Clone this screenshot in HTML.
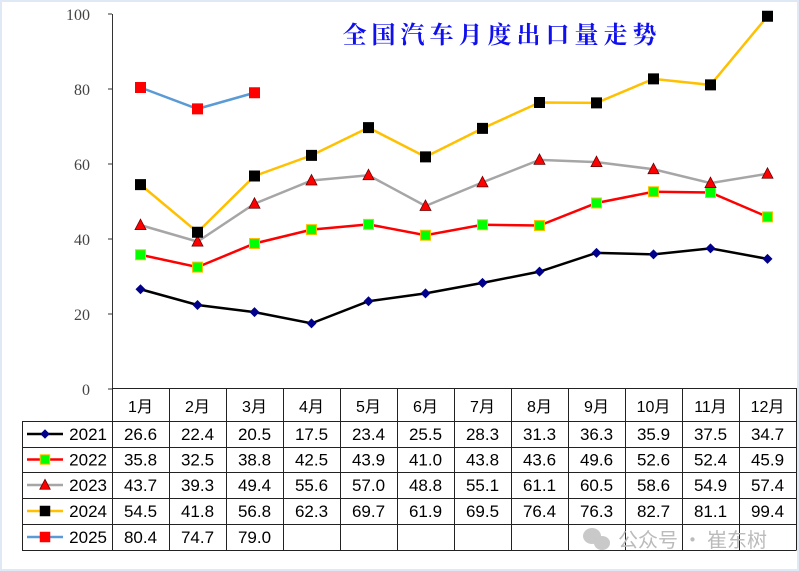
<!DOCTYPE html>
<html><head><meta charset="utf-8"><style>
html,body{margin:0;padding:0;background:#fff}
svg{display:block}
</style></head><body>
<svg id="s" width="799" height="571" xmlns="http://www.w3.org/2000/svg" font-family="Liberation Sans, sans-serif">
<rect x="0" y="0" width="799" height="571" fill="#dfe9f6"/>
<rect x="2" y="2" width="795" height="567" fill="#fff"/>
<text x="502" y="43" text-anchor="middle" font-family="Liberation Serif, Noto Serif CJK SC, serif" font-weight="bold" font-size="24" fill="#1010ee" letter-spacing="5">全国汽车月度出口量走势</text>
<g id="g"></g>
</svg>
<script>
const g=document.getElementById('g');let h='';
const X=i=>140.5+57*i, Y=v=>389-3.75*v;
h+='<line x1="112.5" y1="14" x2="112.5" y2="389" stroke="#333" stroke-width="1"/>';
for(let v=0;v<=100;v+=20){h+=`<line x1="108" y1="${Y(v)}" x2="112" y2="${Y(v)}" stroke="#333"/>`;
h+=`<text x="90" y="${Y(v)+6}" text-anchor="end" font-family="Liberation Serif, serif" font-size="16" fill="#444">${v}</text>`;}
const D=[
[[26.6,22.4,20.5,17.5,23.4,25.5,28.3,31.3,36.3,35.9,37.5,34.7],'#000','dia','#00008b','2021'],
[[35.8,32.5,38.8,42.5,43.9,41.0,43.8,43.6,49.6,52.6,52.4,45.9],'#ff0000','sq','#00ff00','2022'],
[[43.7,39.3,49.4,55.6,57.0,48.8,55.1,61.1,60.5,58.6,54.9,57.4],'#a6a6a6','tri','#ff0000','2023'],
[[54.5,41.8,56.8,62.3,69.7,61.9,69.5,76.4,76.3,82.7,81.1,99.4],'#ffc000','sq','#000','2024'],
[[80.4,74.7,79.0],'#5b9bd5','sq','#ff0000','2025']];
function mk(t,c,x,y,s){s=s||1;
 if(t=='sq'){let b=c=='#00ff00'?'#ffc000':c;return `<rect x="${x-5*s}" y="${y-5*s}" width="${10*s}" height="${10*s}" fill="${c}" stroke="${b}" stroke-width="1"/>`;}
 if(t=='dia')return `<polygon points="${x},${y-5*s} ${x+5*s},${y} ${x},${y+5*s} ${x-5*s},${y}" fill="${c}"/>`;
 return `<polygon points="${x},${y-6*s} ${x+5.5*s},${y+4.5*s} ${x-5.5*s},${y+4.5*s}" fill="${c}" stroke="#600" stroke-width="0.8"/>`;}
D.forEach(d=>{h+=`<polyline fill="none" stroke="${d[1]}" stroke-width="2.5" points="${d[0].map((v,i)=>X(i)+','+Y(v)).join(' ')}"/>`;
 d[0].forEach((v,i)=>h+=mk(d[2],d[3],X(i),Y(v)));});
const rows=[388,421,447,472,498,524,550];
const L='#222';
h+=`<line x1="112.5" y1="388.5" x2="796.5" y2="388.5" stroke="${L}"/>`;
for(let r=1;r<rows.length;r++)h+=`<line x1="22" y1="${rows[r]+.5}" x2="796.5" y2="${rows[r]+.5}" stroke="${L}"/>`;
h+=`<line x1="22.5" y1="421" x2="22.5" y2="550" stroke="${L}"/>`;
for(let i=0;i<=12;i++){let x=112.5+57*i;h+=`<line x1="${x}" y1="388" x2="${x}" y2="550" stroke="${L}"/>`;}
for(let i=0;i<12;i++)h+=`<text x="${X(i)}" y="412" text-anchor="middle" font-size="16" font-family="Liberation Sans, Noto Sans CJK SC, sans-serif" fill="#000">${i+1}月</text>`;
D.forEach((d,r)=>{let cy=(rows[r+1]+rows[r+2])/2;
 h+=`<line x1="27" y1="${cy}" x2="63" y2="${cy}" stroke="${d[1]}" stroke-width="2.5"/>`+mk(d[2],d[3],45,cy,0.95);
 h+=`<text x="107" y="${cy+6}" text-anchor="end" font-size="17" fill="#000">${d[4]}</text>`;
 d[0].forEach((v,i)=>h+=`<text x="${X(i)}" y="${cy+6}" text-anchor="middle" font-size="17" fill="#000">${v.toFixed(1)}</text>`);});
h+=`<g opacity="0.35"><ellipse cx="592" cy="536" rx="9" ry="8" fill="#666"/><ellipse cx="602" cy="543" rx="8" ry="7" fill="#666"/></g>`;
h+=`<text x="618" y="547" font-size="20" font-family="Noto Sans CJK SC, sans-serif" fill="#bbb">公众号 · 崔东树</text>`;
g.innerHTML=h;
</script>
</body></html>
